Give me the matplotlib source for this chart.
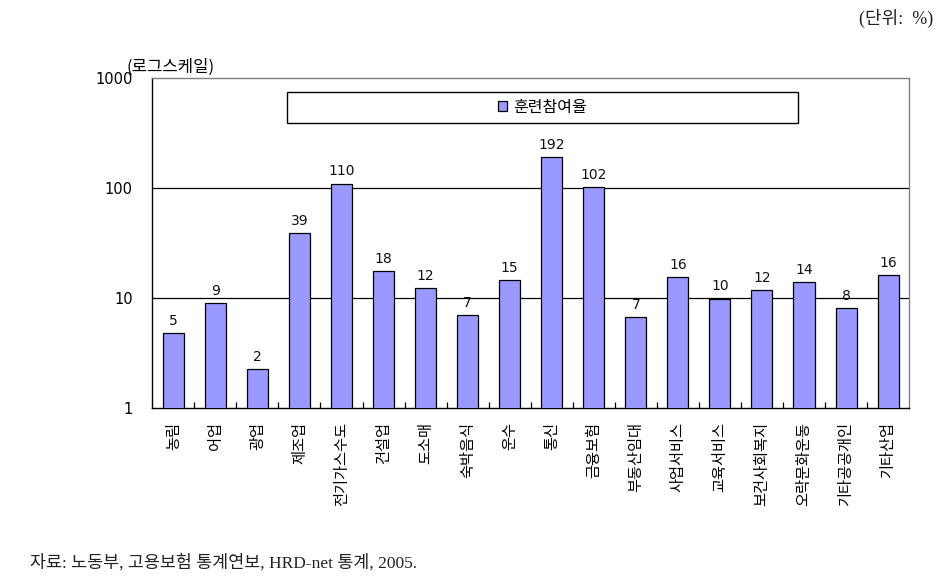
import matplotlib
matplotlib.use("Agg")
import matplotlib.pyplot as plt
from matplotlib.patches import Rectangle
from matplotlib.ticker import FixedLocator, NullFormatter

plt.rcParams['font.family'] = ['Noto Sans CJK KR', 'DejaVu Sans']

categories = ['농림', '어업', '광업', '제조업', '전기가스수도', '건설업', '도소매', '숙박음식',
              '운수', '통신', '금융보험', '부동산임대', '사업서비스', '교육서비스',
              '보건사회복지', '오락문화운동', '기타공공개인', '기타산업']
values = [4.8, 9.0, 2.26, 39.0, 110, 17.6, 12.3, 7.0, 14.6, 192, 102, 6.7, 15.5, 9.9,
          11.8, 14.0, 8.1, 16.2]
series_name = '훈련참여율'
yticks = [1, 10, 100, 1000]
ytick_labels = ['1', '10', '100', '1000']

fig = plt.figure(figsize=(9.46, 5.86), dpi=100)
ax = fig.add_axes([0.161, 0.3032, 0.800, 0.5632])

x = list(range(len(categories)))
bars = ax.bar(x, values, width=0.5, color='#9999FF', edgecolor='black', linewidth=0.9,
              label=series_name, zorder=3)
ax.bar_label(bars, labels=[str(int(round(v))) for v in values], padding=4, fontsize=10,
             family=['DejaVu Sans'], color='#111111')

ax.set_yscale('log')
ax.set_ylim(1, 1000)
ax.set_xlim(-0.5, len(categories) - 0.5)
ax.yaxis.set_major_locator(FixedLocator(yticks))
ax.set_yticklabels(ytick_labels, family=['DejaVu Sans'], fontsize=10.5)
ax.yaxis.set_minor_locator(FixedLocator([]))
ax.yaxis.set_minor_formatter(NullFormatter())
ax.tick_params(axis='y', length=0, pad=14)

ax.set_xticks(x)
ax.set_xticklabels(categories, rotation=90, fontsize=11, va='top', ha='center')
ax.tick_params(axis='x', which='major', length=0, pad=10)
ax.set_xticks([i + 0.5 for i in range(len(categories) - 1)], minor=True)
ax.tick_params(axis='x', which='minor', direction='in', length=4, width=0.9)

for yv in [10, 100]:
    ax.axhline(yv, color='black', linewidth=0.9, zorder=1)

for s in ['left', 'bottom']:
    ax.spines[s].set_color('black')
    ax.spines[s].set_linewidth(1.0)
for s in ['top', 'right']:
    ax.spines[s].set_color('#808080')
    ax.spines[s].set_linewidth(1.0)

# legend box
ax.add_patch(Rectangle((0.178, 0.865), 0.675, 0.093, transform=ax.transAxes,
                       facecolor='white', edgecolor='black', linewidth=1.0, zorder=4))
leg = ax.legend(loc='center', bbox_to_anchor=(0.5155, 0.9115), frameon=False, fontsize=11.5,
                handlelength=0.6, handleheight=0.6, handletextpad=0.4)
leg.set_zorder(5)

fig.text(126.5 / 946, 1 - 67 / 586, '(로그스케일)', fontsize=12, va='center', ha='left')
fig.text(933 / 946, 1 - 18 / 586, '(단위:  %)', fontsize=13, va='center', ha='right',
         family=['Liberation Serif', 'Noto Sans CJK KR'], color='#222222')
fig.text(30 / 946, 1 - 563 / 586, '자료: 노동부, 고용보험 통계연보, HRD-net 통계, 2005.', fontsize=12.5,
         va='center', ha='left', family=['Liberation Serif', 'Noto Sans CJK KR'], color='#222222')

fig.savefig('out.png', dpi=100)
